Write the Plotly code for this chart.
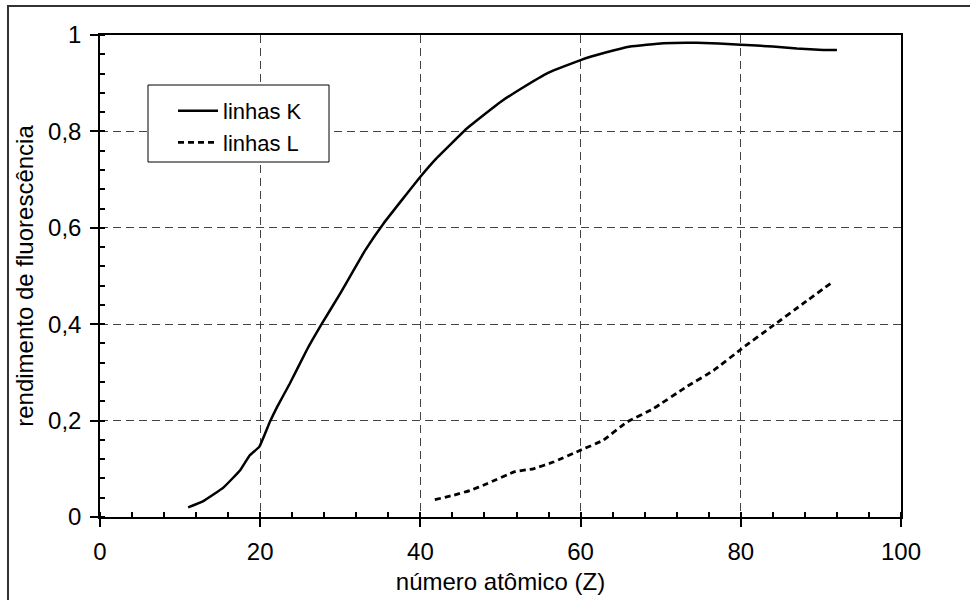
import plotly.graph_objects as go

# Rendimento de fluorescência das linhas K e L em função do número atômico
z_k = [11, 12.9, 15.4, 17.5, 18.7, 19.9, 21.2, 22.1, 23.7, 25.8, 27.7, 30.0,
       33.1, 35.4, 40.0, 42.0, 45.8, 47.9, 50.0, 52.4, 56.0, 60.0, 63.0, 66.2,
       70.3, 74.5, 80.0, 84.0, 87.0, 90.3, 92.0]
w_k = [0.020, 0.033, 0.061, 0.097, 0.128, 0.146, 0.197, 0.228, 0.277, 0.346,
       0.401, 0.464, 0.553, 0.609, 0.706, 0.744, 0.806, 0.834, 0.861, 0.887,
       0.922, 0.948, 0.963, 0.976, 0.983, 0.984, 0.980, 0.976, 0.972, 0.969,
       0.969]

z_l = [41.8, 44.1, 46.2, 48.3, 51.8, 54.1, 56.6, 59.9, 62.8, 65.7, 69.1, 73.2,
       76.6, 80.1, 84.1, 87.8, 91.5]
w_l = [0.036, 0.045, 0.055, 0.069, 0.094, 0.100, 0.114, 0.138, 0.159, 0.196,
       0.225, 0.270, 0.304, 0.349, 0.398, 0.443, 0.488]

x_ticks = [0, 20, 40, 60, 80, 100]
y_ticks = [0, 0.2, 0.4, 0.6, 0.8, 1]

FONT = "Liberation Sans, Arial, sans-serif"

fig = go.Figure()
fig.add_trace(go.Scatter(
    x=z_k, y=w_k, mode="lines", name="linhas K", legendgroup="k",
    line=dict(color="black", width=2.5, shape="spline", smoothing=0.3),
))
fig.add_trace(go.Scatter(
    x=z_l, y=w_l, mode="lines", name="linhas L", legendgroup="l",
    line=dict(color="black", width=2.8, dash="6px,4px", shape="spline", smoothing=0.3),
))

# plot area spans 100..901 px horizontally, 35..517 px vertically
L, R, T, B = 100, 970 - 901, 35, 600 - 517
pw, ph = 970 - L - R, 600 - T - B


def px_x(p):
    return (p - L) / pw


def px_y(p):
    return (600 - B - p) / ph


axis_common = dict(
    showline=True, linecolor="black", linewidth=1.5, mirror=True,
    ticks="outside", ticklen=8, tickcolor="black", tickwidth=1.5,
    showgrid=True, gridcolor="#444444", gridwidth=1, griddash="8px,5px",
    zeroline=False, automargin=False,
    tickfont=dict(family=FONT, size=24, color="black"),
)

fig.update_xaxes(
    **axis_common, range=[0, 100], tickvals=x_ticks,
    minor=dict(dtick=4, tick0=0, ticks="inside", ticklen=5, tickcolor="black",
               tickwidth=1.5, showgrid=False),
    title=dict(text="número atômico (Z)", font=dict(family=FONT, size=24, color="black"),
               standoff=10),
    ticklabelstandoff=4,
)
fig.update_yaxes(
    **axis_common, range=[0, 1], tickvals=y_ticks,
    minor=dict(dtick=0.04, tick0=0, ticks="inside", ticklen=5, tickcolor="black",
               tickwidth=1.5, showgrid=False),
    title=dict(text="rendimento de fluorescência", font=dict(family=FONT, size=24, color="black"),
               standoff=8),
    ticklabelstandoff=4,
)

# frame around the whole chart
fig.add_shape(type="rect", xref="paper", yref="paper",
              x0=px_x(8), x1=px_x(975), y0=px_y(605), y1=px_y(6),
              line=dict(color="#333333", width=2), fillcolor="rgba(0,0,0,0)",
              layer="above")

# legend box
fig.add_shape(type="rect", xref="paper", yref="paper",
              x0=px_x(148), x1=px_x(329), y0=px_y(162), y1=px_y(85),
              line=dict(color="black", width=1), fillcolor="white",
              layer="above")

fig.update_layout(
    width=970, height=600,
    margin=dict(l=L, r=R, t=T, b=B),
    paper_bgcolor="white", plot_bgcolor="white",
    separators=",.",
    font=dict(family=FONT, color="black"),
    showlegend=True,
    legend=dict(
        x=px_x(173), y=px_y(90), xanchor="left", yanchor="top",
        bgcolor="rgba(0,0,0,0)", borderwidth=0,
        font=dict(family=FONT, size=22, color="black"),
        tracegroupgap=0, itemwidth=40,
    ),
)

fig.write_html("out.html")
